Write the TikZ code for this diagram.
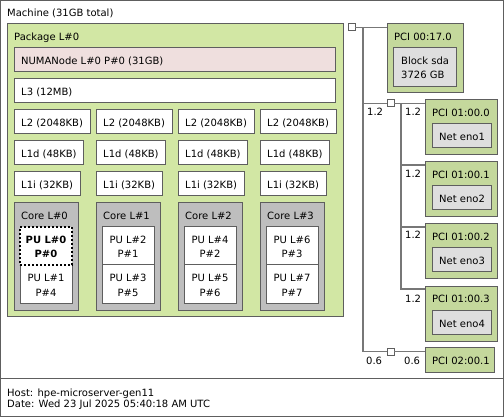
\documentclass[tikz,border=0pt]{standalone}
\usepackage{fontspec}
\setmainfont{DejaVu Sans}
\definecolor{pkgcol}{HTML}{D2E7A4}
\definecolor{numacol}{HTML}{EFDFDE}
\definecolor{corecol}{HTML}{BEBEBE}
\definecolor{pcicol}{HTML}{C4D89C}
\definecolor{devcol}{HTML}{DEDEDE}
\definecolor{bordercol}{HTML}{5E5E5E}
\definecolor{wirecol}{HTML}{777777}
\newcommand\mybox[6]{\node[bx,#6,minimum width=#4pt,minimum height=#5pt] (#1) at (#2,#3) {};}
\begin{document}
\begin{tikzpicture}[x=1pt,y=-1pt,
  bx/.style={draw=bordercol,line width=1pt,inner sep=0pt,outer sep=0pt,anchor=north west},
  txt/.style={inner sep=0pt,anchor=base west,font=\fontsize{10}{12}\selectfont,text=black},
  putxt/.style={inner sep=0pt,anchor=base,align=center,font=\fontsize{10}{14}\selectfont,text=black},
  wire/.style={draw=wirecol,line width=1.6pt},
  sqbox/.style={bx,fill=white,minimum width=7pt,minimum height=7pt},
  pcibox/.style={bx,fill=pcicol},
  devbox/.style={bx,fill=devcol}]
\useasboundingbox (0,0) rectangle (504,417);
% machine and legend
\mybox{machine}{0.5}{0.5}{503}{378}{fill=white}
\node[txt] (machinet) at (7,17) {Machine (31GB total)};
\mybox{legend}{0.5}{378.5}{503}{38}{fill=white}
\node[txt,align=left,font=\fontsize{10}{11}\selectfont] (legendt) at (7,407) {Host: hpe-microserver-gen11\\Date: Wed 23 Jul 2025 05:40:18 AM UTC};
% package
\mybox{pkg}{7}{24}{336}{292}{fill=pkgcol}
\node[txt] (pkgt) at (14,40.5) {Package L\#0};
\mybox{numa}{14}{48}{321}{24}{fill=numacol}
\node[txt] (numat) at (21,65) {NUMANode L\#0 P\#0 (31GB)};
\mybox{lthree}{14}{79}{321}{24}{fill=white}
\node[txt] (lthreet) at (21,96) {L3 (12MB)};
\foreach \i/\pa/\pb/\qa/\qb in {0/0/1/0/4,1/2/3/1/5,2/4/5/2/6,3/6/7/3/7}{
  \pgfmathsetmacro\xx{14+82*\i}
  \mybox{ltwo\i}{\xx}{110}{76}{24}{fill=white}
  \node[txt] (ltwot\i) at (\xx+7,127) {L2 (2048KB)};
  \mybox{lod\i}{\xx}{141}{69}{24}{fill=white}
  \node[txt] (lodt\i) at (\xx+7,158) {L1d (48KB)};
  \mybox{loi\i}{\xx}{172}{66}{24}{fill=white}
  \node[txt] (loit\i) at (\xx+7,189) {L1i (32KB)};
  \mybox{core\i}{\xx}{203}{64}{107}{fill=corecol}
  \node[txt] (coret\i) at (\xx+7,220) {Core L\#\i};
  \mybox{pub\i}{\xx+6}{265}{52}{38}{fill=white}
  \node[putxt] (pubt\i) at (\xx+32,296) {PU L\#\pb\\P\#\qb};
  \ifnum\i=0
    \mybox{pua\i}{\xx+6}{227}{52}{38}{fill=white,draw=black,line width=1.5pt,dash pattern=on 2pt off 2pt}
    \node[putxt,font=\fontsize{10}{14}\selectfont\bfseries] (puat\i) at (\xx+32,258) {PU L\#\pa\\P\#\qa};
  \else
    \mybox{pua\i}{\xx+6}{227}{52}{38}{fill=white}
    \node[putxt] (puat\i) at (\xx+32,258) {PU L\#\pa\\P\#\qa};
  \fi
}
% I/O
\mybox{sqa}{348}{24}{7}{7}{sqbox}
\mybox{pcia}{387}{24}{76}{69}{pcibox}
\node[txt] (pciat) at (394,40.5) {PCI 00:17.0};
\mybox{blk}{393}{48}{63}{39}{devbox}
\node[txt,align=left,font=\fontsize{10}{14}\selectfont] (blkt) at (401,79) {Block sda\\3726 GB};
\mybox{sqb}{387}{100}{7}{7}{sqbox}
\foreach \j/\t in {1/100,2/162,3/224,4/286}{
  \mybox{pcin\j}{425}{\t}{72}{55}{pcibox}
  \pgfmathtruncatemacro\k{\j-1}
  \node[txt] (pcint\j) at (432,\t+16.5) {PCI 01:00.\k};
  \mybox{net\j}{432}{\t+24}{59}{24}{devbox}
  \node[txt] (nett\j) at (439,\t+41) {Net eno\j};
}
\mybox{sqc}{387}{348}{7}{7}{sqbox}
\mybox{pcic}{425}{347}{69}{25}{pcibox}
\node[txt] (pcict) at (432,364) {PCI 02:00.1};
% wires
\coordinate (vtop) at (363,27.5);
\coordinate (vmid) at (401,103.5);
\draw[wire] (sqa.east) -- (pcia.west |- sqa.east);
\draw[wire] (vtop) |- (sqb.west);
\draw[wire] (vtop) |- (sqc.west);
\draw[wire] (sqb.east) -- (pcin1.west |- sqb.east);
\draw[wire] (sqc.east) -- (pcic.west |- sqc.east);
\foreach \j in {2,3,4}{
  \draw[wire] (vmid) |- ([yshift=-3pt]pcin\j.north west);
}
% link speeds
\node[txt] (spa) at (367,116) {1.2};
\node[txt] (spb) at (405,116) {1.2};
\node[txt] (spc) at (405,178) {1.2};
\node[txt] (spd) at (405,239) {1.2};
\node[txt] (spe) at (405,302) {1.2};
\node[txt] (spf) at (366,364) {0.6};
\node[txt] (spg) at (404,364) {0.6};
\end{tikzpicture}
\end{document}
